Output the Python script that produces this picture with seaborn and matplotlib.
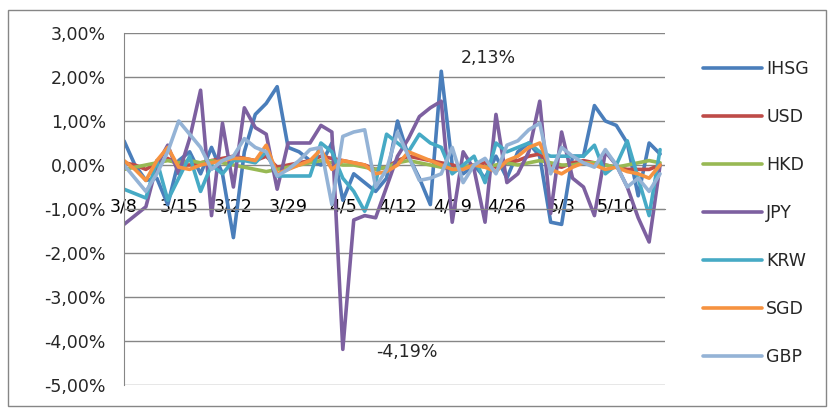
import pandas as pd
import matplotlib
matplotlib.use('Agg')
import matplotlib.pyplot as plt
import seaborn as sns
from matplotlib.ticker import FuncFormatter, FixedLocator
from matplotlib.patches import Rectangle

# Daily changes (%), one value per trading day
dates = ['3/8', '3/15', '3/22', '3/29', '4/5', '4/12', '4/19', '4/26', '5/3', '5/10']

ihsg = [0.55, 0.0, -0.35, -0.3, -0.9, 0.1, 0.3, -0.2, 0.4, -0.2,
        -1.65, 0.3, 1.15, 1.4, 1.78, 0.4, 0.3, 0.1, 0.0, 0.5,
        -0.8, -0.2, -0.4, -0.6, -0.3, 1.0, 0.2, -0.3, -0.9, 2.13,
        0.0, -0.2, 0.0, -0.3, 0.2, -0.3, 0.3, 0.5, 0.2, -1.3,
        -1.35, 0.2, 0.2, 1.35, 1.0, 0.9, 0.5, -0.7, 0.5, 0.25]
usd = [0.05, 0.0, -0.1, 0.05, 0.15, 0.0, 0.0, 0.05, 0.1, 0.15,
       0.2, 0.15, 0.1, 0.2, -0.05, 0.0, 0.05, 0.1, 0.2, 0.15,
       0.1, 0.05, 0.0, -0.1, -0.05, 0.1, 0.2, 0.15, 0.1, 0.05,
       0.0, -0.05, 0.0, 0.05, -0.05, 0.05, 0.1, 0.2, 0.25, 0.0,
       -0.05, 0.05, 0.1, 0.05, 0.0, -0.05, -0.1, -0.1, -0.1, 0.0]
hkd = [-0.1, -0.05, 0.0, 0.05, 0.1, 0.05, 0.1, 0.05, 0.1, 0.05,
       0.0, -0.05, -0.1, -0.15, -0.1, -0.05, 0.0, 0.05, 0.1, 0.05,
       0.0, 0.0, -0.05, -0.1, -0.05, 0.05, 0.1, 0.05, 0.0, -0.05,
       -0.1, -0.05, 0.0, -0.05, 0.0, 0.05, 0.0, 0.05, 0.1, 0.05,
       0.0, 0.0, 0.05, 0.05, 0.0, -0.05, 0.0, 0.05, 0.1, 0.05]
jpy = [-1.35, -1.15, -0.95, 0.0, 0.45, -0.2, 0.6, 1.7, -1.15, 0.95,
       -0.5, 1.3, 0.85, 0.7, -0.55, 0.5, 0.5, 0.5, 0.9, 0.75,
       -4.19, -1.25, -1.15, -1.2, -0.5, 0.2, 0.6, 1.1, 1.3, 1.45,
       -1.3, 0.3, -0.1, -1.3, 1.15, -0.4, -0.2, 0.3, 1.45, -1.1,
       0.75, -0.3, -0.5, -1.15, 0.3, 0.0, -0.5, -1.2, -1.75, 0.0]
krw = [-0.55, -0.65, -0.75, 0.1, -0.8, -0.3, 0.2, -0.6, 0.0, -0.2,
       0.1, 0.1, 0.05, 0.3, -0.25, -0.25, -0.25, -0.25, 0.5, 0.3,
       -0.3, -0.6, -1.05, -0.4, 0.7, 0.5, 0.3, 0.7, 0.5, 0.4,
       -0.2, 0.0, 0.2, -0.4, 0.5, 0.3, 0.4, 0.5, 0.3, 0.2,
       0.2, 0.2, 0.2, 0.45, -0.2, 0.0, 0.55, -0.3, -1.15, 0.35]
sgd = [0.1, -0.1, -0.35, 0.1, 0.4, -0.05, -0.1, 0.0, 0.05, 0.1,
       0.15, 0.15, 0.1, 0.45, -0.2, -0.1, 0.0, 0.1, 0.35, -0.1,
       0.1, 0.05, 0.0, -0.2, -0.15, 0.0, 0.3, 0.2, 0.1, 0.0,
       -0.1, -0.1, 0.0, -0.05, -0.15, 0.1, 0.2, 0.4, 0.5, -0.1,
       -0.2, -0.05, 0.05, 0.0, -0.1, -0.05, -0.15, -0.2, -0.3, 0.0]
gbp = [0.0, -0.3, -0.6, -0.2, 0.3, 1.0, 0.7, 0.4, -0.1, 0.1,
       0.2, 0.6, 0.4, 0.3, -0.25, -0.1, 0.1, 0.35, 0.4, -0.9,
       0.65, 0.75, 0.8, -0.5, -0.1, 0.75, 0.2, -0.35, -0.3, -0.2,
       0.4, -0.4, 0.0, 0.15, -0.2, 0.45, 0.55, 0.8, 0.95, -0.2,
       0.4, 0.2, 0.05, -0.05, 0.35, 0.0, -0.5, -0.3, -0.6, -0.2]

series_names = ['IHSG', 'USD', 'HKD', 'JPY', 'KRW', 'SGD', 'GBP']
series_vals = [ihsg, usd, hkd, jpy, krw, sgd, gbp]
colors = ['#4A7EBB', '#BE4B48', '#98B954', '#7D60A0', '#46AAC5', '#F69240', '#94B3D6']

frames = []
for name, vals in zip(series_names, series_vals):
    frames.append(pd.DataFrame({'day': range(len(vals)), 'value': vals, 'series': name}))
df = pd.concat(frames, ignore_index=True)

sns.set_style('white')
plt.rcParams['font.family'] = ['DejaVu Sans']

fig = plt.figure(figsize=(8.29, 4.08), dpi=100)
ax = fig.add_axes([124 / 829, 1 - 385 / 408, (665 - 124) / 829, (385 - 33) / 408])

sns.lineplot(data=df, x='day', y='value', hue='series', hue_order=series_names,
             palette=colors, linewidth=2.6, sort=False, ax=ax)

ax.set_xlim(0, 49.45)
ax.set_ylim(-5, 3)
ax.set_yticks(range(-5, 4))
ax.yaxis.set_major_formatter(FuncFormatter(lambda v, p: f'{v:.2f}%'.replace('.', ',')))
ax.grid(axis='y', color='#868686', linewidth=1)
ax.set_axisbelow(True)

# category axis crosses at -1%, labels sit on that line
ax.spines['bottom'].set_position(('data', -1))
ax.spines['bottom'].set_color('#868686')
ax.spines['left'].set_color('#868686')
ax.spines['top'].set_visible(False)
ax.spines['right'].set_visible(False)
ax.xaxis.set_major_locator(FixedLocator([i * 5 for i in range(len(dates))]))
ax.set_xticklabels(dates)
ax.tick_params(axis='x', length=0, pad=-8, labelsize=12.5, colors='black')
ax.tick_params(axis='y', length=5, width=1, color='#868686', pad=8, labelsize=12.5)
ax.set_xlabel('')
ax.set_ylabel('')

# data labels for the extremes
ax.annotate('2,13%', xy=(488 / 829, 1 - 58 / 408), xycoords='figure fraction',
            fontsize=12.5, ha='center', va='center')
ax.annotate('-4,19%', xy=(407 / 829, 1 - 352 / 408), xycoords='figure fraction',
            fontsize=12.5, ha='center', va='center')

handles, labels = ax.get_legend_handles_labels()
ax.legend(handles, labels, loc='center left', bbox_to_anchor=(703 / 829, 1 - 213 / 408),
          bbox_transform=fig.transFigure, frameon=False, fontsize=12.5,
          handlelength=3.4, handletextpad=0.25, labelspacing=1.72,
          borderpad=0, borderaxespad=0)

# chart area border
fig.patches.append(Rectangle((8 / 829, 2 / 408), 818 / 829, 396 / 408,
                             transform=fig.transFigure, fill=False,
                             edgecolor='#868686', linewidth=1))

plt.savefig('out.png', dpi=100)
